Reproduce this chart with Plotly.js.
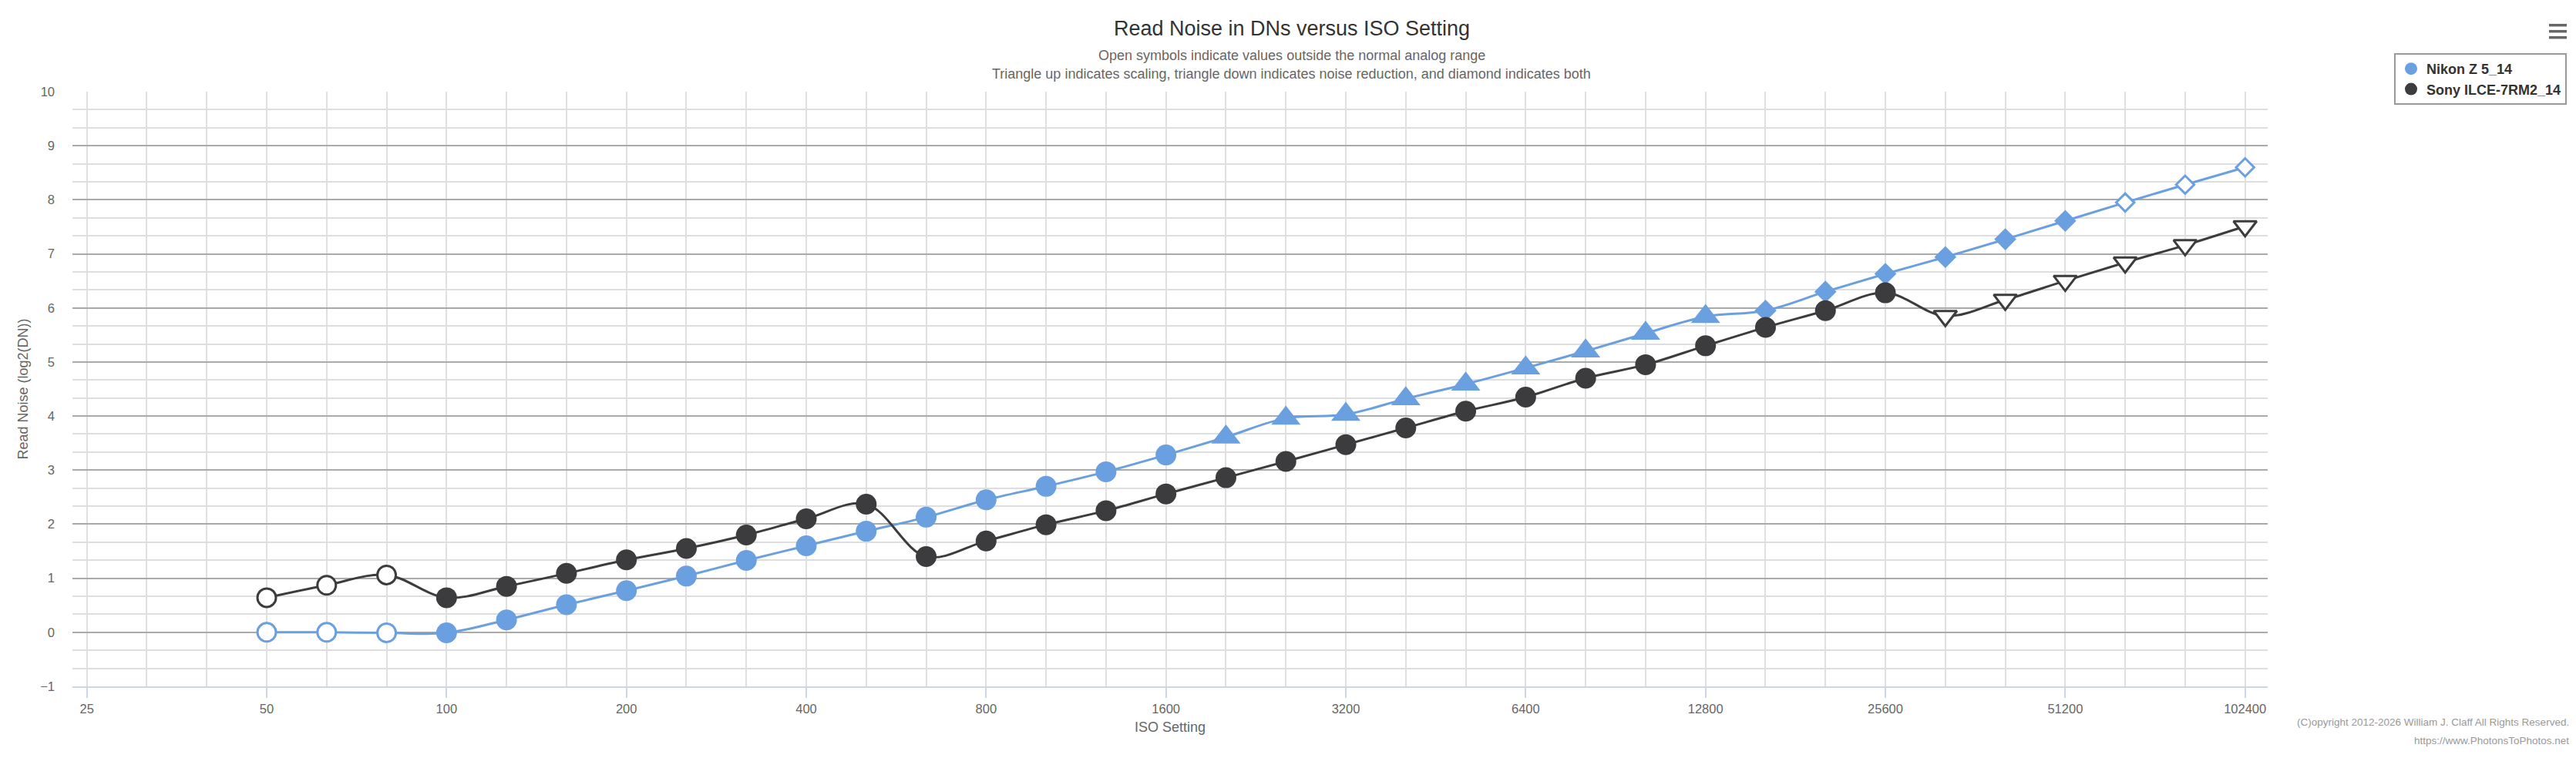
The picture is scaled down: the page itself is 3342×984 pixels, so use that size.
<!DOCTYPE html>
<html>
<head>
<meta charset="utf-8">
<script src="https://cdn.plot.ly/plotly-3.0.1.min.js"></script>
<style>
html,body{margin:0;padding:0;background:#ffffff;}
#chart{width:3342px;height:984px;}
</style>
</head>
<body>
<div id="chart"></div>
<script>
// ---------------- DATA ----------------
const isoSettings = [50,64,80,100,125,160,200,250,320,400,500,640,800,1000,1250,1600,2000,2500,3200,4000,5000,6400,8000,10000,12800,16000,20000,25600,32000,40000,51200,64000,80000,102400];

const nikonName = 'Nikon Z 5_14';
const nikonNoise = [0.00,0.00,-0.01,-0.01,0.23,0.51,0.77,1.04,1.33,1.60,1.87,2.13,2.45,2.70,2.97,3.28,3.61,3.96,4.03,4.32,4.59,4.89,5.20,5.53,5.84,5.95,6.30,6.63,6.94,7.27,7.61,7.95,8.28,8.60];
// 1 = value outside the normal analog range (open symbol)
const nikonOutside = [1,1,1,0,0,0,0,0,0,0,0,0,0,0,0,0,0,0,0,0,0,0,0,0,0,0,0,0,0,0,0,1,1,1];
// none / scale / nr / both
const nikonProcessing = ['none','none','none','none','none','none','none','none','none','none','none','none','none','none','none','none',
  'scale','scale','scale','scale','scale','scale','scale','scale','scale',
  'both','both','both','both','both','both','both','both','both'];

const sonyName = 'Sony ILCE-7RM2_14';
const sonyNoise = [0.64,0.87,1.06,0.64,0.85,1.09,1.34,1.55,1.80,2.10,2.37,1.40,1.69,1.99,2.25,2.56,2.86,3.16,3.47,3.78,4.09,4.35,4.70,4.95,5.30,5.64,5.95,6.28,5.85,6.15,6.50,6.84,7.16,7.51];
const sonyOutside = [1,1,1,0,0,0,0,0,0,0,0,0,0,0,0,0,0,0,0,0,0,0,0,0,0,0,0,0,1,1,1,1,1,1];
const sonyProcessing = ['none','none','none','none','none','none','none','none','none','none','none','none','none','none','none','none','none','none','none','none','none','none','none','none','none','none','none','none',
  'nr','nr','nr','nr','nr','nr'];

const isoTickValues = [25,50,100,200,400,800,1600,3200,6400,12800,25600,51200,102400];
const isoTickLabels = ['25','50','100','200','400','800','1600','3200','6400','12800','25600','51200','102400'];

const chartTitle = 'Read Noise in DNs versus ISO Setting';
const subtitleLines = ['Open symbols indicate values outside the normal analog range',
  'Triangle up indicates scaling, triangle down indicates noise reduction, and diamond indicates both'];
const xTitle = 'ISO Setting';
const yTitle = 'Read Noise (log2(DN))';
const creditLines = ['(C)opyright 2012-2026 William J. Claff All Rights Reserved.', 'https://www.PhotonsToPhotos.net'];

// ---------------- STYLE ----------------
const nikonColor = '#6a9fe0';
const sonyColor = '#3c3c3e';
const FONT = '"Liberation Sans", Arial, Helvetica, sans-serif';

// nominal ISO values sit on exact third stops of the log2 ISO scale
function thirdStop(iso){ return 25 * Math.pow(2, Math.round(3 * Math.log2(iso / 25)) / 3); }

const symbolFor = {none:'circle', scale:'triangle-up', nr:'triangle-down', both:'diamond'};
const sizeFilled = {none:27, scale:33, nr:30, both:22};
const sizeOpen = {none:24, scale:28, nr:26, both:18};

function seriesTrace(name, noise, outside, proc, color){
  return {
    type:'scatter', mode:'lines+markers', name:name, showlegend:false,
    x: isoSettings.map(thirdStop), y: noise,
    line:{color:color, width:3, shape:'spline', smoothing:1},
    marker:{
      opacity:1,
      symbol: proc.map(p => symbolFor[p]),
      size: proc.map((p,i) => outside[i] ? sizeOpen[p] : sizeFilled[p]),
      color: outside.map(o => o ? '#ffffff' : color),
      line:{color:color, width: outside.map(o => o ? 3 : 0)}
    },
    hovertemplate:'ISO %{x:.0f}<br>%{y:.2f}<extra>'+name+'</extra>'
  };
}
function legendTrace(name, color){
  return {type:'scatter', mode:'markers', name:name, x:[null], y:[null], showlegend:true,
    marker:{symbol:'circle', size:26, color:color, opacity:1}};
}

const minorIsoGrid = [];
for (let k = 0; k <= 36; k++){ if (k % 3 !== 0) minorIsoGrid.push(25 * Math.pow(2, k/3)); }

const data = [
  seriesTrace(nikonName, nikonNoise, nikonOutside, nikonProcessing, nikonColor),
  seriesTrace(sonyName, sonyNoise, sonyOutside, sonyProcessing, sonyColor),
  legendTrace(nikonName, nikonColor),
  legendTrace(sonyName, sonyColor)
];

// plot area in pixels: left 94, right 2942, top 119, bottom 891
const W = 3342, H = 984, L = 94, R = 2942, T = 119, B = 891;
const px = x => (x - L) / (R - L);
const py = y => (B - y) / (B - T);

const layout = {
  width: W, height: H,
  margin:{l:L, r:W-R, t:T, b:H-B, pad:0},
  paper_bgcolor:'#ffffff', plot_bgcolor:'#ffffff',
  font:{family:FONT, color:'#666666'},
  title:{text:chartTitle, font:{family:FONT, size:27, color:'#333333'},
    xref:'container', x:1676/W, xanchor:'center', yref:'container', y:1-37/H, yanchor:'middle'},
  showlegend:true,
  legend:{x:px(3106), xanchor:'left', y:py(69), yanchor:'top',
    bgcolor:'#ffffff', bordercolor:'#999999', borderwidth:2,
    font:{family:FONT, size:18, color:'#333333', weight:'bold'},
    itemsizing:'trace', tracegroupgap:0},
  xaxis:{
    type:'log', range:[Math.log10(25) - 0.080*Math.LOG10E*Math.LN2, Math.log10(102400) + 0.1256*Math.LOG10E*Math.LN2],
    tickmode:'array', tickvals:isoTickValues, ticktext:isoTickLabels,
    ticks:'outside', ticklen:13, tickwidth:1.5, tickcolor:'#ccd6eb',
    showline:true, linecolor:'#ccd6eb', linewidth:1.5,
    showgrid:true, gridcolor:'#e0e0e0', gridwidth:1.5, zeroline:false,
    tickfont:{family:FONT, size:16.5, color:'#666666'},
    minor:{tickmode:'array', tickvals:minorIsoGrid, showgrid:true, gridcolor:'#e0e0e0', gridwidth:1.5, ticks:''},
    title:{text:xTitle, font:{family:FONT, size:18, color:'#666666'}, standoff:10},
    fixedrange:true
  },
  yaxis:{
    range:[-1,10], tickmode:'linear', tick0:0, dtick:1,
    showgrid:true, gridcolor:'#aaaaaa', gridwidth:2, zeroline:false, showline:false,
    ticks:'', ticklabelstandoff:22,
    tickfont:{family:FONT, size:16.5, color:'#666666'},
    minor:{tick0:0, dtick:1/3, showgrid:true, gridcolor:'#dedede', gridwidth:1.5, ticks:''},
    title:{text:yTitle, font:{family:FONT, size:18, color:'#666666'}, standoff:10},
    fixedrange:true
  },
  annotations:[
    {xref:'paper', yref:'paper', x:px(1676), y:py(72), xanchor:'center', yanchor:'middle', showarrow:false,
     text:subtitleLines[0], font:{family:FONT, size:18, color:'#666666'}},
    {xref:'paper', yref:'paper', x:px(1676), y:py(96), xanchor:'center', yanchor:'middle', showarrow:false,
     text:subtitleLines[1], font:{family:FONT, size:18, color:'#666666'}},
    {xref:'paper', yref:'paper', x:px(3335), y:py(937), xanchor:'right', yanchor:'middle', showarrow:false,
     text:creditLines[0], font:{family:FONT, size:13.5, color:'#999999'}},
    {xref:'paper', yref:'paper', x:px(3335), y:py(961), xanchor:'right', yanchor:'middle', showarrow:false,
     text:creditLines[1], font:{family:FONT, size:13.5, color:'#999999'}}
  ],
  shapes:[32.7, 40.7, 48.7].map(yy => ({type:'line', xref:'paper', yref:'paper',
    x0:px(3307), x1:px(3330), y0:py(yy), y1:py(yy), line:{color:'#666666', width:3.5}}))
};

Plotly.newPlot('chart', data, layout, {displayModeBar:false, responsive:false, staticPlot:false});
</script>
</body>
</html>
